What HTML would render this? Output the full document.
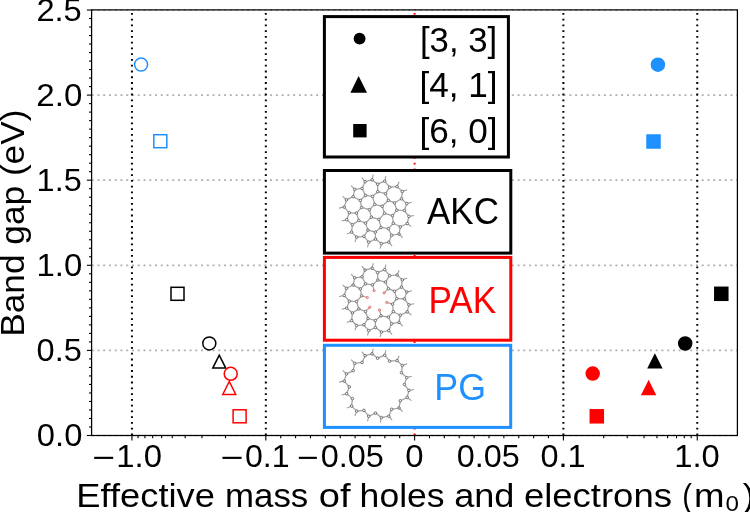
<!DOCTYPE html><html><head><meta charset="utf-8"><style>html,body{margin:0;padding:0;background:#fff;width:750px;height:512px;overflow:hidden}svg{display:block;will-change:transform}text{font-family:"Liberation Sans",sans-serif}</style></head><body>
<svg width="750" height="512" viewBox="0 0 750 512">
<line x1="91.6" y1="435.50" x2="737.4" y2="435.50" stroke="#b0b0b0" stroke-width="1.7" stroke-dasharray="2 3.755" stroke-dashoffset="-0.1"/>
<line x1="91.6" y1="350.40" x2="737.4" y2="350.40" stroke="#b0b0b0" stroke-width="1.7" stroke-dasharray="2 3.755" stroke-dashoffset="-0.1"/>
<line x1="91.6" y1="265.30" x2="737.4" y2="265.30" stroke="#b0b0b0" stroke-width="1.7" stroke-dasharray="2 3.755" stroke-dashoffset="-0.1"/>
<line x1="91.6" y1="180.20" x2="737.4" y2="180.20" stroke="#b0b0b0" stroke-width="1.7" stroke-dasharray="2 3.755" stroke-dashoffset="-0.1"/>
<line x1="91.6" y1="95.10" x2="737.4" y2="95.10" stroke="#b0b0b0" stroke-width="1.7" stroke-dasharray="2 3.755" stroke-dashoffset="-0.1"/>
<line x1="91.6" y1="10.00" x2="737.4" y2="10.00" stroke="#b0b0b0" stroke-width="1.7" stroke-dasharray="2 3.755" stroke-dashoffset="-0.1"/>
<line x1="131.94" y1="435.5" x2="131.94" y2="9.9" stroke="#000" stroke-width="2" stroke-dasharray="1.8 3.96" stroke-dashoffset="-0.24"/>
<line x1="265.83" y1="435.5" x2="265.83" y2="9.9" stroke="#000" stroke-width="2" stroke-dasharray="1.8 3.96" stroke-dashoffset="-0.24"/>
<line x1="563.37" y1="435.5" x2="563.37" y2="9.9" stroke="#000" stroke-width="2" stroke-dasharray="1.8 3.96" stroke-dashoffset="-0.24"/>
<line x1="697.26" y1="435.5" x2="697.26" y2="9.9" stroke="#000" stroke-width="2" stroke-dasharray="1.8 3.96" stroke-dashoffset="-0.24"/>
<line x1="414.60" y1="435.5" x2="414.60" y2="9.9" stroke="#ff0000" stroke-width="2" stroke-dasharray="1.8 3.96" stroke-dashoffset="-0.24"/>
<circle cx="141.07" cy="64.6" r="6.5" fill="none" stroke="#1e90ff" stroke-width="1.5"/>
<rect x="153.80" y="134.70" width="13" height="13" fill="none" stroke="#1e90ff" stroke-width="1.5"/>
<rect x="171.00" y="287.30" width="13" height="13" fill="none" stroke="#000000" stroke-width="1.5"/>
<circle cx="209.3" cy="343.4" r="6.5" fill="none" stroke="#000000" stroke-width="1.5"/>
<polygon points="219.25,355.10 212.75,368.10 225.75,368.10" fill="none" stroke="#000000" stroke-width="1.5" stroke-linejoin="miter"/>
<circle cx="230.7" cy="373.8" r="6.5" fill="none" stroke="#ff0000" stroke-width="1.5"/>
<polygon points="229.25,381.50 222.75,394.50 235.75,394.50" fill="none" stroke="#ff0000" stroke-width="1.5" stroke-linejoin="miter"/>
<rect x="233.10" y="409.80" width="13" height="13" fill="none" stroke="#ff0000" stroke-width="1.5"/>
<circle cx="657.9" cy="64.65" r="6.5" fill="#1e90ff" stroke="#1e90ff" stroke-width="1.5"/>
<rect x="647.00" y="135.00" width="13" height="13" fill="#1e90ff" stroke="#1e90ff" stroke-width="1.5"/>
<rect x="714.80" y="287.30" width="13" height="13" fill="#000000" stroke="#000000" stroke-width="1.5"/>
<circle cx="685.2" cy="343.5" r="6.5" fill="#000000" stroke="#000000" stroke-width="1.5"/>
<polygon points="654.90,354.85 648.40,367.85 661.40,367.85" fill="#000000" stroke="#000000" stroke-width="1.5" stroke-linejoin="miter"/>
<circle cx="592.7" cy="373.6" r="6.5" fill="#ff0000" stroke="#ff0000" stroke-width="1.5"/>
<polygon points="648.60,381.50 642.10,394.50 655.10,394.50" fill="#ff0000" stroke="#ff0000" stroke-width="1.5" stroke-linejoin="miter"/>
<rect x="590.30" y="409.80" width="13" height="13" fill="#ff0000" stroke="#ff0000" stroke-width="1.5"/>
<rect x="324.40" y="16.60" width="184.00" height="140.40" fill="#fff" stroke="#000000" stroke-width="3.0"/>
<rect x="324.40" y="170.50" width="186.40" height="82.60" fill="#fff" stroke="#000000" stroke-width="3.0"/>
<rect x="324.40" y="257.40" width="186.40" height="82.80" fill="#fff" stroke="#ff0000" stroke-width="3.0"/>
<rect x="324.40" y="345.30" width="186.30" height="82.10" fill="#fff" stroke="#1e90ff" stroke-width="3.0"/>
<g><line x1="346.50" y1="199.90" x2="342.61" y2="196.45" stroke="#9a9a9a" stroke-width="1.05"/><line x1="344.20" y1="207.10" x2="339.10" y2="208.13" stroke="#9a9a9a" stroke-width="1.05"/><line x1="346.70" y1="219.70" x2="341.64" y2="220.92" stroke="#9a9a9a" stroke-width="1.05"/><line x1="406.80" y1="203.60" x2="411.83" y2="202.29" stroke="#9a9a9a" stroke-width="1.05"/><line x1="372.10" y1="179.80" x2="373.30" y2="174.74" stroke="#9a9a9a" stroke-width="1.05"/><line x1="397.10" y1="186.60" x2="399.11" y2="181.80" stroke="#9a9a9a" stroke-width="1.05"/><line x1="351.60" y1="232.10" x2="346.81" y2="234.13" stroke="#9a9a9a" stroke-width="1.05"/><line x1="402.30" y1="191.50" x2="407.16" y2="189.64" stroke="#9a9a9a" stroke-width="1.05"/><line x1="408.90" y1="216.40" x2="414.01" y2="215.41" stroke="#9a9a9a" stroke-width="1.05"/><line x1="354.70" y1="189.40" x2="351.12" y2="185.63" stroke="#9a9a9a" stroke-width="1.05"/><line x1="381.40" y1="243.60" x2="380.12" y2="248.64" stroke="#9a9a9a" stroke-width="1.05"/><line x1="399.00" y1="234.00" x2="402.74" y2="237.62" stroke="#9a9a9a" stroke-width="1.05"/><line x1="365.10" y1="181.70" x2="361.77" y2="177.71" stroke="#9a9a9a" stroke-width="1.05"/><line x1="368.70" y1="242.20" x2="367.56" y2="247.27" stroke="#9a9a9a" stroke-width="1.05"/><line x1="384.70" y1="181.20" x2="385.93" y2="176.15" stroke="#9a9a9a" stroke-width="1.05"/><line x1="407.20" y1="223.50" x2="411.40" y2="226.57" stroke="#9a9a9a" stroke-width="1.05"/><line x1="356.70" y1="237.10" x2="354.90" y2="241.98" stroke="#9a9a9a" stroke-width="1.05"/><line x1="388.80" y1="242.20" x2="392.14" y2="246.19" stroke="#9a9a9a" stroke-width="1.05"/><line x1="372.10" y1="179.80" x2="365.10" y2="181.70" stroke="#a2a2a2" stroke-width="1.25"/><line x1="372.10" y1="179.80" x2="377.60" y2="184.20" stroke="#a2a2a2" stroke-width="1.25"/><line x1="365.10" y1="181.70" x2="362.10" y2="188.40" stroke="#a2a2a2" stroke-width="1.25"/><line x1="362.10" y1="188.40" x2="354.70" y2="189.40" stroke="#a2a2a2" stroke-width="1.25"/><line x1="362.10" y1="188.40" x2="365.50" y2="195.40" stroke="#a2a2a2" stroke-width="1.25"/><line x1="354.70" y1="189.40" x2="353.20" y2="196.60" stroke="#a2a2a2" stroke-width="1.25"/><line x1="353.20" y1="196.60" x2="360.30" y2="200.50" stroke="#a2a2a2" stroke-width="1.25"/><line x1="353.20" y1="196.60" x2="346.50" y2="199.90" stroke="#a2a2a2" stroke-width="1.25"/><line x1="360.30" y1="200.50" x2="365.50" y2="195.40" stroke="#a2a2a2" stroke-width="1.25"/><line x1="360.30" y1="200.50" x2="361.60" y2="207.40" stroke="#a2a2a2" stroke-width="1.25"/><line x1="365.50" y1="195.40" x2="372.50" y2="196.40" stroke="#a2a2a2" stroke-width="1.25"/><line x1="372.50" y1="196.40" x2="377.80" y2="191.70" stroke="#a2a2a2" stroke-width="1.25"/><line x1="372.50" y1="196.40" x2="374.70" y2="204.40" stroke="#a2a2a2" stroke-width="1.25"/><line x1="377.80" y1="191.70" x2="377.60" y2="184.20" stroke="#a2a2a2" stroke-width="1.25"/><line x1="377.80" y1="191.70" x2="385.50" y2="193.70" stroke="#a2a2a2" stroke-width="1.25"/><line x1="377.60" y1="184.20" x2="384.70" y2="181.20" stroke="#a2a2a2" stroke-width="1.25"/><line x1="346.50" y1="199.90" x2="344.20" y2="207.10" stroke="#a2a2a2" stroke-width="1.25"/><line x1="344.20" y1="207.10" x2="349.30" y2="212.80" stroke="#a2a2a2" stroke-width="1.25"/><line x1="349.30" y1="212.80" x2="356.50" y2="213.10" stroke="#a2a2a2" stroke-width="1.25"/><line x1="349.30" y1="212.80" x2="346.70" y2="219.70" stroke="#a2a2a2" stroke-width="1.25"/><line x1="356.50" y1="213.10" x2="361.60" y2="207.40" stroke="#a2a2a2" stroke-width="1.25"/><line x1="356.50" y1="213.10" x2="358.80" y2="220.50" stroke="#a2a2a2" stroke-width="1.25"/><line x1="361.60" y1="207.40" x2="369.40" y2="209.70" stroke="#a2a2a2" stroke-width="1.25"/><line x1="369.40" y1="209.70" x2="374.70" y2="204.40" stroke="#a2a2a2" stroke-width="1.25"/><line x1="369.40" y1="209.70" x2="371.40" y2="217.20" stroke="#a2a2a2" stroke-width="1.25"/><line x1="374.70" y1="204.40" x2="382.20" y2="206.30" stroke="#a2a2a2" stroke-width="1.25"/><line x1="384.70" y1="181.20" x2="389.60" y2="187.20" stroke="#a2a2a2" stroke-width="1.25"/><line x1="389.60" y1="187.20" x2="385.50" y2="193.70" stroke="#a2a2a2" stroke-width="1.25"/><line x1="389.60" y1="187.20" x2="397.10" y2="186.60" stroke="#a2a2a2" stroke-width="1.25"/><line x1="385.50" y1="193.70" x2="388.40" y2="200.30" stroke="#a2a2a2" stroke-width="1.25"/><line x1="397.10" y1="186.60" x2="402.30" y2="191.50" stroke="#a2a2a2" stroke-width="1.25"/><line x1="402.30" y1="191.50" x2="401.50" y2="198.70" stroke="#a2a2a2" stroke-width="1.25"/><line x1="401.50" y1="198.70" x2="394.50" y2="202.80" stroke="#a2a2a2" stroke-width="1.25"/><line x1="401.50" y1="198.70" x2="406.80" y2="203.60" stroke="#a2a2a2" stroke-width="1.25"/><line x1="394.50" y1="202.80" x2="388.40" y2="200.30" stroke="#a2a2a2" stroke-width="1.25"/><line x1="394.50" y1="202.80" x2="396.80" y2="210.20" stroke="#a2a2a2" stroke-width="1.25"/><line x1="388.40" y1="200.30" x2="382.20" y2="206.30" stroke="#a2a2a2" stroke-width="1.25"/><line x1="382.20" y1="206.30" x2="384.50" y2="213.30" stroke="#a2a2a2" stroke-width="1.25"/><line x1="406.80" y1="203.60" x2="404.40" y2="210.50" stroke="#a2a2a2" stroke-width="1.25"/><line x1="404.40" y1="210.50" x2="396.80" y2="210.20" stroke="#a2a2a2" stroke-width="1.25"/><line x1="404.40" y1="210.50" x2="408.90" y2="216.40" stroke="#a2a2a2" stroke-width="1.25"/><line x1="396.80" y1="210.20" x2="392.50" y2="215.70" stroke="#a2a2a2" stroke-width="1.25"/><line x1="384.50" y1="213.30" x2="392.50" y2="215.70" stroke="#a2a2a2" stroke-width="1.25"/><line x1="384.50" y1="213.30" x2="378.90" y2="219.40" stroke="#a2a2a2" stroke-width="1.25"/><line x1="346.70" y1="219.70" x2="352.40" y2="224.60" stroke="#a2a2a2" stroke-width="1.25"/><line x1="358.80" y1="220.50" x2="352.40" y2="224.60" stroke="#a2a2a2" stroke-width="1.25"/><line x1="358.80" y1="220.50" x2="365.50" y2="223.10" stroke="#a2a2a2" stroke-width="1.25"/><line x1="352.40" y1="224.60" x2="351.60" y2="232.10" stroke="#a2a2a2" stroke-width="1.25"/><line x1="365.50" y1="223.10" x2="371.40" y2="217.20" stroke="#a2a2a2" stroke-width="1.25"/><line x1="365.50" y1="223.10" x2="368.00" y2="230.10" stroke="#a2a2a2" stroke-width="1.25"/><line x1="371.40" y1="217.20" x2="378.90" y2="219.40" stroke="#a2a2a2" stroke-width="1.25"/><line x1="368.00" y1="230.10" x2="375.30" y2="232.10" stroke="#a2a2a2" stroke-width="1.25"/><line x1="368.00" y1="230.10" x2="363.90" y2="236.40" stroke="#a2a2a2" stroke-width="1.25"/><line x1="375.30" y1="232.10" x2="375.50" y2="239.10" stroke="#a2a2a2" stroke-width="1.25"/><line x1="375.30" y1="232.10" x2="381.00" y2="227.40" stroke="#a2a2a2" stroke-width="1.25"/><line x1="375.50" y1="239.10" x2="368.70" y2="242.20" stroke="#a2a2a2" stroke-width="1.25"/><line x1="375.50" y1="239.10" x2="381.40" y2="243.60" stroke="#a2a2a2" stroke-width="1.25"/><line x1="368.70" y1="242.20" x2="363.90" y2="236.40" stroke="#a2a2a2" stroke-width="1.25"/><line x1="363.90" y1="236.40" x2="356.70" y2="237.10" stroke="#a2a2a2" stroke-width="1.25"/><line x1="356.70" y1="237.10" x2="351.60" y2="232.10" stroke="#a2a2a2" stroke-width="1.25"/><line x1="392.50" y1="215.70" x2="393.30" y2="223.30" stroke="#a2a2a2" stroke-width="1.25"/><line x1="408.90" y1="216.40" x2="407.20" y2="223.50" stroke="#a2a2a2" stroke-width="1.25"/><line x1="407.20" y1="223.50" x2="400.30" y2="226.80" stroke="#a2a2a2" stroke-width="1.25"/><line x1="400.30" y1="226.80" x2="393.30" y2="223.30" stroke="#a2a2a2" stroke-width="1.25"/><line x1="400.30" y1="226.80" x2="399.00" y2="234.00" stroke="#a2a2a2" stroke-width="1.25"/><line x1="393.30" y1="223.30" x2="388.40" y2="228.70" stroke="#a2a2a2" stroke-width="1.25"/><line x1="388.40" y1="228.70" x2="381.00" y2="227.40" stroke="#a2a2a2" stroke-width="1.25"/><line x1="388.40" y1="228.70" x2="391.60" y2="235.30" stroke="#a2a2a2" stroke-width="1.25"/><line x1="381.00" y1="227.40" x2="378.90" y2="219.40" stroke="#a2a2a2" stroke-width="1.25"/><line x1="381.40" y1="243.60" x2="388.80" y2="242.20" stroke="#a2a2a2" stroke-width="1.25"/><line x1="388.80" y1="242.20" x2="391.60" y2="235.30" stroke="#a2a2a2" stroke-width="1.25"/><line x1="391.60" y1="235.30" x2="399.00" y2="234.00" stroke="#a2a2a2" stroke-width="1.25"/><circle cx="356.50" cy="213.10" r="1.3" fill="#f2f2f2" stroke="#585858" stroke-width="0.8"/><circle cx="388.40" cy="200.30" r="1.3" fill="#f2f2f2" stroke="#585858" stroke-width="0.8"/><circle cx="346.50" cy="199.90" r="1.3" fill="#f2f2f2" stroke="#585858" stroke-width="0.8"/><circle cx="365.50" cy="223.10" r="1.3" fill="#f2f2f2" stroke="#585858" stroke-width="0.8"/><circle cx="400.30" cy="226.80" r="1.3" fill="#f2f2f2" stroke="#585858" stroke-width="0.8"/><circle cx="344.20" cy="207.10" r="1.3" fill="#f2f2f2" stroke="#585858" stroke-width="0.8"/><circle cx="382.20" cy="206.30" r="1.3" fill="#f2f2f2" stroke="#585858" stroke-width="0.8"/><circle cx="346.70" cy="219.70" r="1.3" fill="#f2f2f2" stroke="#585858" stroke-width="0.8"/><circle cx="365.50" cy="195.40" r="1.3" fill="#f2f2f2" stroke="#585858" stroke-width="0.8"/><circle cx="377.60" cy="184.20" r="1.3" fill="#f2f2f2" stroke="#585858" stroke-width="0.8"/><circle cx="406.80" cy="203.60" r="1.3" fill="#f2f2f2" stroke="#585858" stroke-width="0.8"/><circle cx="352.40" cy="224.60" r="1.3" fill="#f2f2f2" stroke="#585858" stroke-width="0.8"/><circle cx="394.50" cy="202.80" r="1.3" fill="#f2f2f2" stroke="#585858" stroke-width="0.8"/><circle cx="371.40" cy="217.20" r="1.3" fill="#f2f2f2" stroke="#585858" stroke-width="0.8"/><circle cx="372.10" cy="179.80" r="1.3" fill="#f2f2f2" stroke="#585858" stroke-width="0.8"/><circle cx="397.10" cy="186.60" r="1.3" fill="#f2f2f2" stroke="#585858" stroke-width="0.8"/><circle cx="391.60" cy="235.30" r="1.3" fill="#f2f2f2" stroke="#585858" stroke-width="0.8"/><circle cx="361.60" cy="207.40" r="1.3" fill="#f2f2f2" stroke="#585858" stroke-width="0.8"/><circle cx="372.50" cy="196.40" r="1.3" fill="#f2f2f2" stroke="#585858" stroke-width="0.8"/><circle cx="393.30" cy="223.30" r="1.3" fill="#f2f2f2" stroke="#585858" stroke-width="0.8"/><circle cx="368.00" cy="230.10" r="1.3" fill="#f2f2f2" stroke="#585858" stroke-width="0.8"/><circle cx="381.00" cy="227.40" r="1.3" fill="#f2f2f2" stroke="#585858" stroke-width="0.8"/><circle cx="404.40" cy="210.50" r="1.3" fill="#f2f2f2" stroke="#585858" stroke-width="0.8"/><circle cx="351.60" cy="232.10" r="1.3" fill="#f2f2f2" stroke="#585858" stroke-width="0.8"/><circle cx="385.50" cy="193.70" r="1.3" fill="#f2f2f2" stroke="#585858" stroke-width="0.8"/><circle cx="402.30" cy="191.50" r="1.3" fill="#f2f2f2" stroke="#585858" stroke-width="0.8"/><circle cx="408.90" cy="216.40" r="1.3" fill="#f2f2f2" stroke="#585858" stroke-width="0.8"/><circle cx="354.70" cy="189.40" r="1.3" fill="#f2f2f2" stroke="#585858" stroke-width="0.8"/><circle cx="381.40" cy="243.60" r="1.3" fill="#f2f2f2" stroke="#585858" stroke-width="0.8"/><circle cx="375.50" cy="239.10" r="1.3" fill="#f2f2f2" stroke="#585858" stroke-width="0.8"/><circle cx="384.50" cy="213.30" r="1.3" fill="#f2f2f2" stroke="#585858" stroke-width="0.8"/><circle cx="375.30" cy="232.10" r="1.3" fill="#f2f2f2" stroke="#585858" stroke-width="0.8"/><circle cx="363.90" cy="236.40" r="1.3" fill="#f2f2f2" stroke="#585858" stroke-width="0.8"/><circle cx="399.00" cy="234.00" r="1.3" fill="#f2f2f2" stroke="#585858" stroke-width="0.8"/><circle cx="369.40" cy="209.70" r="1.3" fill="#f2f2f2" stroke="#585858" stroke-width="0.8"/><circle cx="401.50" cy="198.70" r="1.3" fill="#f2f2f2" stroke="#585858" stroke-width="0.8"/><circle cx="365.10" cy="181.70" r="1.3" fill="#f2f2f2" stroke="#585858" stroke-width="0.8"/><circle cx="349.30" cy="212.80" r="1.3" fill="#f2f2f2" stroke="#585858" stroke-width="0.8"/><circle cx="362.10" cy="188.40" r="1.3" fill="#f2f2f2" stroke="#585858" stroke-width="0.8"/><circle cx="389.60" cy="187.20" r="1.3" fill="#f2f2f2" stroke="#585858" stroke-width="0.8"/><circle cx="396.80" cy="210.20" r="1.3" fill="#f2f2f2" stroke="#585858" stroke-width="0.8"/><circle cx="368.70" cy="242.20" r="1.3" fill="#f2f2f2" stroke="#585858" stroke-width="0.8"/><circle cx="384.70" cy="181.20" r="1.3" fill="#f2f2f2" stroke="#585858" stroke-width="0.8"/><circle cx="378.90" cy="219.40" r="1.3" fill="#f2f2f2" stroke="#585858" stroke-width="0.8"/><circle cx="353.20" cy="196.60" r="1.3" fill="#f2f2f2" stroke="#585858" stroke-width="0.8"/><circle cx="407.20" cy="223.50" r="1.3" fill="#f2f2f2" stroke="#585858" stroke-width="0.8"/><circle cx="358.80" cy="220.50" r="1.3" fill="#f2f2f2" stroke="#585858" stroke-width="0.8"/><circle cx="374.70" cy="204.40" r="1.3" fill="#f2f2f2" stroke="#585858" stroke-width="0.8"/><circle cx="356.70" cy="237.10" r="1.3" fill="#f2f2f2" stroke="#585858" stroke-width="0.8"/><circle cx="388.80" cy="242.20" r="1.3" fill="#f2f2f2" stroke="#585858" stroke-width="0.8"/><circle cx="392.50" cy="215.70" r="1.3" fill="#f2f2f2" stroke="#585858" stroke-width="0.8"/><circle cx="360.30" cy="200.50" r="1.3" fill="#f2f2f2" stroke="#585858" stroke-width="0.8"/><circle cx="377.80" cy="191.70" r="1.3" fill="#f2f2f2" stroke="#585858" stroke-width="0.8"/><circle cx="388.40" cy="228.70" r="1.3" fill="#f2f2f2" stroke="#585858" stroke-width="0.8"/><line x1="346.50" y1="288.30" x2="342.61" y2="284.85" stroke="#9a9a9a" stroke-width="1.05"/><line x1="344.20" y1="295.50" x2="339.10" y2="296.53" stroke="#9a9a9a" stroke-width="1.05"/><line x1="346.70" y1="308.10" x2="341.64" y2="309.32" stroke="#9a9a9a" stroke-width="1.05"/><line x1="406.80" y1="292.00" x2="411.83" y2="290.69" stroke="#9a9a9a" stroke-width="1.05"/><line x1="372.10" y1="268.20" x2="373.30" y2="263.14" stroke="#9a9a9a" stroke-width="1.05"/><line x1="397.10" y1="275.00" x2="399.11" y2="270.20" stroke="#9a9a9a" stroke-width="1.05"/><line x1="351.60" y1="320.50" x2="346.81" y2="322.53" stroke="#9a9a9a" stroke-width="1.05"/><line x1="402.30" y1="279.90" x2="407.16" y2="278.04" stroke="#9a9a9a" stroke-width="1.05"/><line x1="408.90" y1="304.80" x2="414.01" y2="303.81" stroke="#9a9a9a" stroke-width="1.05"/><line x1="354.70" y1="277.80" x2="351.12" y2="274.03" stroke="#9a9a9a" stroke-width="1.05"/><line x1="381.40" y1="332.00" x2="380.12" y2="337.04" stroke="#9a9a9a" stroke-width="1.05"/><line x1="399.00" y1="322.40" x2="402.74" y2="326.02" stroke="#9a9a9a" stroke-width="1.05"/><line x1="365.10" y1="270.10" x2="361.77" y2="266.11" stroke="#9a9a9a" stroke-width="1.05"/><line x1="368.70" y1="330.60" x2="367.56" y2="335.67" stroke="#9a9a9a" stroke-width="1.05"/><line x1="384.70" y1="269.60" x2="385.93" y2="264.55" stroke="#9a9a9a" stroke-width="1.05"/><line x1="407.20" y1="311.90" x2="411.40" y2="314.97" stroke="#9a9a9a" stroke-width="1.05"/><line x1="356.70" y1="325.50" x2="354.90" y2="330.38" stroke="#9a9a9a" stroke-width="1.05"/><line x1="388.80" y1="330.60" x2="392.14" y2="334.59" stroke="#9a9a9a" stroke-width="1.05"/><line x1="361.60" y1="295.80" x2="364.77" y2="296.73" stroke="#9a9a9a" stroke-width="1.05"/><line x1="364.57" y1="296.68" x2="366.59" y2="297.27" stroke="#dc8484" stroke-width="1.1"/><circle cx="367.36" cy="297.50" r="1.1" fill="#f4d0d0" stroke="#d06060" stroke-width="0.8"/><line x1="372.50" y1="284.80" x2="373.38" y2="287.98" stroke="#9a9a9a" stroke-width="1.05"/><line x1="373.32" y1="287.79" x2="373.88" y2="289.81" stroke="#dc8484" stroke-width="1.1"/><circle cx="374.09" cy="290.59" r="1.1" fill="#f4d0d0" stroke="#d06060" stroke-width="0.8"/><line x1="388.40" y1="288.70" x2="386.03" y2="290.99" stroke="#9a9a9a" stroke-width="1.05"/><line x1="386.17" y1="290.86" x2="384.66" y2="292.32" stroke="#dc8484" stroke-width="1.1"/><circle cx="384.09" cy="292.87" r="1.1" fill="#f4d0d0" stroke="#d06060" stroke-width="0.8"/><line x1="392.50" y1="304.10" x2="389.34" y2="303.15" stroke="#9a9a9a" stroke-width="1.05"/><line x1="389.53" y1="303.21" x2="387.52" y2="302.61" stroke="#dc8484" stroke-width="1.1"/><circle cx="386.75" cy="302.38" r="1.1" fill="#f4d0d0" stroke="#d06060" stroke-width="0.8"/><line x1="365.50" y1="311.50" x2="367.83" y2="309.17" stroke="#9a9a9a" stroke-width="1.05"/><line x1="367.69" y1="309.31" x2="369.18" y2="307.82" stroke="#dc8484" stroke-width="1.1"/><circle cx="369.74" cy="307.26" r="1.1" fill="#f4d0d0" stroke="#d06060" stroke-width="0.8"/><line x1="381.00" y1="315.80" x2="380.16" y2="312.61" stroke="#9a9a9a" stroke-width="1.05"/><line x1="380.21" y1="312.80" x2="379.68" y2="310.77" stroke="#dc8484" stroke-width="1.1"/><circle cx="379.48" cy="310.00" r="1.1" fill="#f4d0d0" stroke="#d06060" stroke-width="0.8"/><line x1="372.10" y1="268.20" x2="365.10" y2="270.10" stroke="#a2a2a2" stroke-width="1.25"/><line x1="372.10" y1="268.20" x2="377.60" y2="272.60" stroke="#a2a2a2" stroke-width="1.25"/><line x1="365.10" y1="270.10" x2="362.10" y2="276.80" stroke="#a2a2a2" stroke-width="1.25"/><line x1="362.10" y1="276.80" x2="354.70" y2="277.80" stroke="#a2a2a2" stroke-width="1.25"/><line x1="362.10" y1="276.80" x2="365.50" y2="283.80" stroke="#a2a2a2" stroke-width="1.25"/><line x1="354.70" y1="277.80" x2="353.20" y2="285.00" stroke="#a2a2a2" stroke-width="1.25"/><line x1="353.20" y1="285.00" x2="360.30" y2="288.90" stroke="#a2a2a2" stroke-width="1.25"/><line x1="353.20" y1="285.00" x2="346.50" y2="288.30" stroke="#a2a2a2" stroke-width="1.25"/><line x1="360.30" y1="288.90" x2="365.50" y2="283.80" stroke="#a2a2a2" stroke-width="1.25"/><line x1="360.30" y1="288.90" x2="361.60" y2="295.80" stroke="#a2a2a2" stroke-width="1.25"/><line x1="365.50" y1="283.80" x2="372.50" y2="284.80" stroke="#a2a2a2" stroke-width="1.25"/><line x1="372.50" y1="284.80" x2="377.80" y2="280.10" stroke="#a2a2a2" stroke-width="1.25"/><line x1="377.80" y1="280.10" x2="377.60" y2="272.60" stroke="#a2a2a2" stroke-width="1.25"/><line x1="377.80" y1="280.10" x2="385.50" y2="282.10" stroke="#a2a2a2" stroke-width="1.25"/><line x1="377.60" y1="272.60" x2="384.70" y2="269.60" stroke="#a2a2a2" stroke-width="1.25"/><line x1="346.50" y1="288.30" x2="344.20" y2="295.50" stroke="#a2a2a2" stroke-width="1.25"/><line x1="344.20" y1="295.50" x2="349.30" y2="301.20" stroke="#a2a2a2" stroke-width="1.25"/><line x1="349.30" y1="301.20" x2="356.50" y2="301.50" stroke="#a2a2a2" stroke-width="1.25"/><line x1="349.30" y1="301.20" x2="346.70" y2="308.10" stroke="#a2a2a2" stroke-width="1.25"/><line x1="356.50" y1="301.50" x2="361.60" y2="295.80" stroke="#a2a2a2" stroke-width="1.25"/><line x1="356.50" y1="301.50" x2="358.80" y2="308.90" stroke="#a2a2a2" stroke-width="1.25"/><line x1="384.70" y1="269.60" x2="389.60" y2="275.60" stroke="#a2a2a2" stroke-width="1.25"/><line x1="389.60" y1="275.60" x2="385.50" y2="282.10" stroke="#a2a2a2" stroke-width="1.25"/><line x1="389.60" y1="275.60" x2="397.10" y2="275.00" stroke="#a2a2a2" stroke-width="1.25"/><line x1="385.50" y1="282.10" x2="388.40" y2="288.70" stroke="#a2a2a2" stroke-width="1.25"/><line x1="397.10" y1="275.00" x2="402.30" y2="279.90" stroke="#a2a2a2" stroke-width="1.25"/><line x1="402.30" y1="279.90" x2="401.50" y2="287.10" stroke="#a2a2a2" stroke-width="1.25"/><line x1="401.50" y1="287.10" x2="394.50" y2="291.20" stroke="#a2a2a2" stroke-width="1.25"/><line x1="401.50" y1="287.10" x2="406.80" y2="292.00" stroke="#a2a2a2" stroke-width="1.25"/><line x1="394.50" y1="291.20" x2="388.40" y2="288.70" stroke="#a2a2a2" stroke-width="1.25"/><line x1="394.50" y1="291.20" x2="396.80" y2="298.60" stroke="#a2a2a2" stroke-width="1.25"/><line x1="406.80" y1="292.00" x2="404.40" y2="298.90" stroke="#a2a2a2" stroke-width="1.25"/><line x1="404.40" y1="298.90" x2="396.80" y2="298.60" stroke="#a2a2a2" stroke-width="1.25"/><line x1="404.40" y1="298.90" x2="408.90" y2="304.80" stroke="#a2a2a2" stroke-width="1.25"/><line x1="396.80" y1="298.60" x2="392.50" y2="304.10" stroke="#a2a2a2" stroke-width="1.25"/><line x1="346.70" y1="308.10" x2="352.40" y2="313.00" stroke="#a2a2a2" stroke-width="1.25"/><line x1="358.80" y1="308.90" x2="352.40" y2="313.00" stroke="#a2a2a2" stroke-width="1.25"/><line x1="358.80" y1="308.90" x2="365.50" y2="311.50" stroke="#a2a2a2" stroke-width="1.25"/><line x1="352.40" y1="313.00" x2="351.60" y2="320.50" stroke="#a2a2a2" stroke-width="1.25"/><line x1="365.50" y1="311.50" x2="368.00" y2="318.50" stroke="#a2a2a2" stroke-width="1.25"/><line x1="368.00" y1="318.50" x2="375.30" y2="320.50" stroke="#a2a2a2" stroke-width="1.25"/><line x1="368.00" y1="318.50" x2="363.90" y2="324.80" stroke="#a2a2a2" stroke-width="1.25"/><line x1="375.30" y1="320.50" x2="375.50" y2="327.50" stroke="#a2a2a2" stroke-width="1.25"/><line x1="375.30" y1="320.50" x2="381.00" y2="315.80" stroke="#a2a2a2" stroke-width="1.25"/><line x1="375.50" y1="327.50" x2="368.70" y2="330.60" stroke="#a2a2a2" stroke-width="1.25"/><line x1="375.50" y1="327.50" x2="381.40" y2="332.00" stroke="#a2a2a2" stroke-width="1.25"/><line x1="368.70" y1="330.60" x2="363.90" y2="324.80" stroke="#a2a2a2" stroke-width="1.25"/><line x1="363.90" y1="324.80" x2="356.70" y2="325.50" stroke="#a2a2a2" stroke-width="1.25"/><line x1="356.70" y1="325.50" x2="351.60" y2="320.50" stroke="#a2a2a2" stroke-width="1.25"/><line x1="392.50" y1="304.10" x2="393.30" y2="311.70" stroke="#a2a2a2" stroke-width="1.25"/><line x1="408.90" y1="304.80" x2="407.20" y2="311.90" stroke="#a2a2a2" stroke-width="1.25"/><line x1="407.20" y1="311.90" x2="400.30" y2="315.20" stroke="#a2a2a2" stroke-width="1.25"/><line x1="400.30" y1="315.20" x2="393.30" y2="311.70" stroke="#a2a2a2" stroke-width="1.25"/><line x1="400.30" y1="315.20" x2="399.00" y2="322.40" stroke="#a2a2a2" stroke-width="1.25"/><line x1="393.30" y1="311.70" x2="388.40" y2="317.10" stroke="#a2a2a2" stroke-width="1.25"/><line x1="388.40" y1="317.10" x2="381.00" y2="315.80" stroke="#a2a2a2" stroke-width="1.25"/><line x1="388.40" y1="317.10" x2="391.60" y2="323.70" stroke="#a2a2a2" stroke-width="1.25"/><line x1="381.40" y1="332.00" x2="388.80" y2="330.60" stroke="#a2a2a2" stroke-width="1.25"/><line x1="388.80" y1="330.60" x2="391.60" y2="323.70" stroke="#a2a2a2" stroke-width="1.25"/><line x1="391.60" y1="323.70" x2="399.00" y2="322.40" stroke="#a2a2a2" stroke-width="1.25"/><circle cx="356.50" cy="301.50" r="1.3" fill="#f2f2f2" stroke="#585858" stroke-width="0.8"/><circle cx="388.40" cy="288.70" r="1.3" fill="#f2f2f2" stroke="#585858" stroke-width="0.8"/><circle cx="346.50" cy="288.30" r="1.3" fill="#f2f2f2" stroke="#585858" stroke-width="0.8"/><circle cx="365.50" cy="311.50" r="1.3" fill="#f2f2f2" stroke="#585858" stroke-width="0.8"/><circle cx="400.30" cy="315.20" r="1.3" fill="#f2f2f2" stroke="#585858" stroke-width="0.8"/><circle cx="344.20" cy="295.50" r="1.3" fill="#f2f2f2" stroke="#585858" stroke-width="0.8"/><circle cx="346.70" cy="308.10" r="1.3" fill="#f2f2f2" stroke="#585858" stroke-width="0.8"/><circle cx="365.50" cy="283.80" r="1.3" fill="#f2f2f2" stroke="#585858" stroke-width="0.8"/><circle cx="377.60" cy="272.60" r="1.3" fill="#f2f2f2" stroke="#585858" stroke-width="0.8"/><circle cx="406.80" cy="292.00" r="1.3" fill="#f2f2f2" stroke="#585858" stroke-width="0.8"/><circle cx="352.40" cy="313.00" r="1.3" fill="#f2f2f2" stroke="#585858" stroke-width="0.8"/><circle cx="394.50" cy="291.20" r="1.3" fill="#f2f2f2" stroke="#585858" stroke-width="0.8"/><circle cx="372.10" cy="268.20" r="1.3" fill="#f2f2f2" stroke="#585858" stroke-width="0.8"/><circle cx="397.10" cy="275.00" r="1.3" fill="#f2f2f2" stroke="#585858" stroke-width="0.8"/><circle cx="391.60" cy="323.70" r="1.3" fill="#f2f2f2" stroke="#585858" stroke-width="0.8"/><circle cx="361.60" cy="295.80" r="1.3" fill="#f2f2f2" stroke="#585858" stroke-width="0.8"/><circle cx="372.50" cy="284.80" r="1.3" fill="#f2f2f2" stroke="#585858" stroke-width="0.8"/><circle cx="393.30" cy="311.70" r="1.3" fill="#f2f2f2" stroke="#585858" stroke-width="0.8"/><circle cx="368.00" cy="318.50" r="1.3" fill="#f2f2f2" stroke="#585858" stroke-width="0.8"/><circle cx="381.00" cy="315.80" r="1.3" fill="#f2f2f2" stroke="#585858" stroke-width="0.8"/><circle cx="404.40" cy="298.90" r="1.3" fill="#f2f2f2" stroke="#585858" stroke-width="0.8"/><circle cx="351.60" cy="320.50" r="1.3" fill="#f2f2f2" stroke="#585858" stroke-width="0.8"/><circle cx="385.50" cy="282.10" r="1.3" fill="#f2f2f2" stroke="#585858" stroke-width="0.8"/><circle cx="402.30" cy="279.90" r="1.3" fill="#f2f2f2" stroke="#585858" stroke-width="0.8"/><circle cx="408.90" cy="304.80" r="1.3" fill="#f2f2f2" stroke="#585858" stroke-width="0.8"/><circle cx="354.70" cy="277.80" r="1.3" fill="#f2f2f2" stroke="#585858" stroke-width="0.8"/><circle cx="381.40" cy="332.00" r="1.3" fill="#f2f2f2" stroke="#585858" stroke-width="0.8"/><circle cx="375.50" cy="327.50" r="1.3" fill="#f2f2f2" stroke="#585858" stroke-width="0.8"/><circle cx="375.30" cy="320.50" r="1.3" fill="#f2f2f2" stroke="#585858" stroke-width="0.8"/><circle cx="363.90" cy="324.80" r="1.3" fill="#f2f2f2" stroke="#585858" stroke-width="0.8"/><circle cx="399.00" cy="322.40" r="1.3" fill="#f2f2f2" stroke="#585858" stroke-width="0.8"/><circle cx="401.50" cy="287.10" r="1.3" fill="#f2f2f2" stroke="#585858" stroke-width="0.8"/><circle cx="365.10" cy="270.10" r="1.3" fill="#f2f2f2" stroke="#585858" stroke-width="0.8"/><circle cx="349.30" cy="301.20" r="1.3" fill="#f2f2f2" stroke="#585858" stroke-width="0.8"/><circle cx="362.10" cy="276.80" r="1.3" fill="#f2f2f2" stroke="#585858" stroke-width="0.8"/><circle cx="389.60" cy="275.60" r="1.3" fill="#f2f2f2" stroke="#585858" stroke-width="0.8"/><circle cx="396.80" cy="298.60" r="1.3" fill="#f2f2f2" stroke="#585858" stroke-width="0.8"/><circle cx="368.70" cy="330.60" r="1.3" fill="#f2f2f2" stroke="#585858" stroke-width="0.8"/><circle cx="384.70" cy="269.60" r="1.3" fill="#f2f2f2" stroke="#585858" stroke-width="0.8"/><circle cx="353.20" cy="285.00" r="1.3" fill="#f2f2f2" stroke="#585858" stroke-width="0.8"/><circle cx="407.20" cy="311.90" r="1.3" fill="#f2f2f2" stroke="#585858" stroke-width="0.8"/><circle cx="358.80" cy="308.90" r="1.3" fill="#f2f2f2" stroke="#585858" stroke-width="0.8"/><circle cx="356.70" cy="325.50" r="1.3" fill="#f2f2f2" stroke="#585858" stroke-width="0.8"/><circle cx="388.80" cy="330.60" r="1.3" fill="#f2f2f2" stroke="#585858" stroke-width="0.8"/><circle cx="392.50" cy="304.10" r="1.3" fill="#f2f2f2" stroke="#585858" stroke-width="0.8"/><circle cx="360.30" cy="288.90" r="1.3" fill="#f2f2f2" stroke="#585858" stroke-width="0.8"/><circle cx="377.80" cy="280.10" r="1.3" fill="#f2f2f2" stroke="#585858" stroke-width="0.8"/><circle cx="388.40" cy="317.10" r="1.3" fill="#f2f2f2" stroke="#585858" stroke-width="0.8"/><line x1="346.50" y1="373.90" x2="342.61" y2="370.45" stroke="#9a9a9a" stroke-width="1.05"/><line x1="344.20" y1="381.10" x2="339.10" y2="382.13" stroke="#9a9a9a" stroke-width="1.05"/><line x1="346.70" y1="393.70" x2="341.64" y2="394.92" stroke="#9a9a9a" stroke-width="1.05"/><line x1="406.80" y1="377.60" x2="411.83" y2="376.29" stroke="#9a9a9a" stroke-width="1.05"/><line x1="372.10" y1="353.80" x2="373.30" y2="348.74" stroke="#9a9a9a" stroke-width="1.05"/><line x1="397.10" y1="360.60" x2="399.11" y2="355.80" stroke="#9a9a9a" stroke-width="1.05"/><line x1="351.60" y1="406.10" x2="346.81" y2="408.13" stroke="#9a9a9a" stroke-width="1.05"/><line x1="402.30" y1="365.50" x2="407.16" y2="363.64" stroke="#9a9a9a" stroke-width="1.05"/><line x1="408.90" y1="390.40" x2="414.01" y2="389.41" stroke="#9a9a9a" stroke-width="1.05"/><line x1="354.70" y1="363.40" x2="351.12" y2="359.63" stroke="#9a9a9a" stroke-width="1.05"/><line x1="381.40" y1="417.60" x2="380.12" y2="422.64" stroke="#9a9a9a" stroke-width="1.05"/><line x1="399.00" y1="408.00" x2="402.74" y2="411.62" stroke="#9a9a9a" stroke-width="1.05"/><line x1="365.10" y1="355.70" x2="361.77" y2="351.71" stroke="#9a9a9a" stroke-width="1.05"/><line x1="368.70" y1="416.20" x2="367.56" y2="421.27" stroke="#9a9a9a" stroke-width="1.05"/><line x1="384.70" y1="355.20" x2="385.93" y2="350.15" stroke="#9a9a9a" stroke-width="1.05"/><line x1="407.20" y1="397.50" x2="411.40" y2="400.57" stroke="#9a9a9a" stroke-width="1.05"/><line x1="356.70" y1="411.10" x2="354.90" y2="415.98" stroke="#9a9a9a" stroke-width="1.05"/><line x1="388.80" y1="416.20" x2="392.14" y2="420.19" stroke="#9a9a9a" stroke-width="1.05"/><line x1="372.10" y1="353.80" x2="365.10" y2="355.70" stroke="#a2a2a2" stroke-width="1.25"/><line x1="365.10" y1="355.70" x2="362.10" y2="362.40" stroke="#a2a2a2" stroke-width="1.25"/><line x1="362.10" y1="362.40" x2="354.70" y2="363.40" stroke="#a2a2a2" stroke-width="1.25"/><line x1="354.70" y1="363.40" x2="353.20" y2="370.60" stroke="#a2a2a2" stroke-width="1.25"/><line x1="353.20" y1="370.60" x2="346.50" y2="373.90" stroke="#a2a2a2" stroke-width="1.25"/><line x1="346.50" y1="373.90" x2="344.20" y2="381.10" stroke="#a2a2a2" stroke-width="1.25"/><line x1="344.20" y1="381.10" x2="349.30" y2="386.80" stroke="#a2a2a2" stroke-width="1.25"/><line x1="349.30" y1="386.80" x2="346.70" y2="393.70" stroke="#a2a2a2" stroke-width="1.25"/><line x1="346.70" y1="393.70" x2="352.40" y2="398.60" stroke="#a2a2a2" stroke-width="1.25"/><line x1="352.40" y1="398.60" x2="351.60" y2="406.10" stroke="#a2a2a2" stroke-width="1.25"/><line x1="351.60" y1="406.10" x2="356.70" y2="411.10" stroke="#a2a2a2" stroke-width="1.25"/><line x1="356.70" y1="411.10" x2="363.90" y2="410.40" stroke="#a2a2a2" stroke-width="1.25"/><line x1="363.90" y1="410.40" x2="368.70" y2="416.20" stroke="#a2a2a2" stroke-width="1.25"/><line x1="368.70" y1="416.20" x2="375.50" y2="413.10" stroke="#a2a2a2" stroke-width="1.25"/><line x1="375.50" y1="413.10" x2="381.40" y2="417.60" stroke="#a2a2a2" stroke-width="1.25"/><line x1="381.40" y1="417.60" x2="388.80" y2="416.20" stroke="#a2a2a2" stroke-width="1.25"/><line x1="388.80" y1="416.20" x2="391.60" y2="409.30" stroke="#a2a2a2" stroke-width="1.25"/><line x1="391.60" y1="409.30" x2="399.00" y2="408.00" stroke="#a2a2a2" stroke-width="1.25"/><line x1="399.00" y1="408.00" x2="400.30" y2="400.80" stroke="#a2a2a2" stroke-width="1.25"/><line x1="400.30" y1="400.80" x2="407.20" y2="397.50" stroke="#a2a2a2" stroke-width="1.25"/><line x1="407.20" y1="397.50" x2="408.90" y2="390.40" stroke="#a2a2a2" stroke-width="1.25"/><line x1="408.90" y1="390.40" x2="404.40" y2="384.50" stroke="#a2a2a2" stroke-width="1.25"/><line x1="404.40" y1="384.50" x2="406.80" y2="377.60" stroke="#a2a2a2" stroke-width="1.25"/><line x1="406.80" y1="377.60" x2="401.50" y2="372.70" stroke="#a2a2a2" stroke-width="1.25"/><line x1="401.50" y1="372.70" x2="402.30" y2="365.50" stroke="#a2a2a2" stroke-width="1.25"/><line x1="402.30" y1="365.50" x2="397.10" y2="360.60" stroke="#a2a2a2" stroke-width="1.25"/><line x1="397.10" y1="360.60" x2="389.60" y2="361.20" stroke="#a2a2a2" stroke-width="1.25"/><line x1="389.60" y1="361.20" x2="384.70" y2="355.20" stroke="#a2a2a2" stroke-width="1.25"/><line x1="384.70" y1="355.20" x2="377.60" y2="358.20" stroke="#a2a2a2" stroke-width="1.25"/><line x1="377.60" y1="358.20" x2="372.10" y2="353.80" stroke="#a2a2a2" stroke-width="1.25"/><circle cx="346.50" cy="373.90" r="1.3" fill="#f2f2f2" stroke="#585858" stroke-width="0.8"/><circle cx="400.30" cy="400.80" r="1.3" fill="#f2f2f2" stroke="#585858" stroke-width="0.8"/><circle cx="344.20" cy="381.10" r="1.3" fill="#f2f2f2" stroke="#585858" stroke-width="0.8"/><circle cx="346.70" cy="393.70" r="1.3" fill="#f2f2f2" stroke="#585858" stroke-width="0.8"/><circle cx="377.60" cy="358.20" r="1.3" fill="#f2f2f2" stroke="#585858" stroke-width="0.8"/><circle cx="406.80" cy="377.60" r="1.3" fill="#f2f2f2" stroke="#585858" stroke-width="0.8"/><circle cx="352.40" cy="398.60" r="1.3" fill="#f2f2f2" stroke="#585858" stroke-width="0.8"/><circle cx="372.10" cy="353.80" r="1.3" fill="#f2f2f2" stroke="#585858" stroke-width="0.8"/><circle cx="397.10" cy="360.60" r="1.3" fill="#f2f2f2" stroke="#585858" stroke-width="0.8"/><circle cx="391.60" cy="409.30" r="1.3" fill="#f2f2f2" stroke="#585858" stroke-width="0.8"/><circle cx="404.40" cy="384.50" r="1.3" fill="#f2f2f2" stroke="#585858" stroke-width="0.8"/><circle cx="351.60" cy="406.10" r="1.3" fill="#f2f2f2" stroke="#585858" stroke-width="0.8"/><circle cx="402.30" cy="365.50" r="1.3" fill="#f2f2f2" stroke="#585858" stroke-width="0.8"/><circle cx="408.90" cy="390.40" r="1.3" fill="#f2f2f2" stroke="#585858" stroke-width="0.8"/><circle cx="354.70" cy="363.40" r="1.3" fill="#f2f2f2" stroke="#585858" stroke-width="0.8"/><circle cx="381.40" cy="417.60" r="1.3" fill="#f2f2f2" stroke="#585858" stroke-width="0.8"/><circle cx="375.50" cy="413.10" r="1.3" fill="#f2f2f2" stroke="#585858" stroke-width="0.8"/><circle cx="363.90" cy="410.40" r="1.3" fill="#f2f2f2" stroke="#585858" stroke-width="0.8"/><circle cx="399.00" cy="408.00" r="1.3" fill="#f2f2f2" stroke="#585858" stroke-width="0.8"/><circle cx="401.50" cy="372.70" r="1.3" fill="#f2f2f2" stroke="#585858" stroke-width="0.8"/><circle cx="365.10" cy="355.70" r="1.3" fill="#f2f2f2" stroke="#585858" stroke-width="0.8"/><circle cx="349.30" cy="386.80" r="1.3" fill="#f2f2f2" stroke="#585858" stroke-width="0.8"/><circle cx="362.10" cy="362.40" r="1.3" fill="#f2f2f2" stroke="#585858" stroke-width="0.8"/><circle cx="389.60" cy="361.20" r="1.3" fill="#f2f2f2" stroke="#585858" stroke-width="0.8"/><circle cx="368.70" cy="416.20" r="1.3" fill="#f2f2f2" stroke="#585858" stroke-width="0.8"/><circle cx="384.70" cy="355.20" r="1.3" fill="#f2f2f2" stroke="#585858" stroke-width="0.8"/><circle cx="353.20" cy="370.60" r="1.3" fill="#f2f2f2" stroke="#585858" stroke-width="0.8"/><circle cx="407.20" cy="397.50" r="1.3" fill="#f2f2f2" stroke="#585858" stroke-width="0.8"/><circle cx="356.70" cy="411.10" r="1.3" fill="#f2f2f2" stroke="#585858" stroke-width="0.8"/><circle cx="388.80" cy="416.20" r="1.3" fill="#f2f2f2" stroke="#585858" stroke-width="0.8"/></g>
<circle cx="359.6" cy="38.6" r="5.95" fill="#000"/>
<polygon points="358.6,75.9 350.4,92.7 367,92.7" fill="#000"/>
<rect x="353.2" y="124" width="13.4" height="13.4" fill="#000"/>
<rect x="91.6" y="9.9" width="645.80" height="425.60" fill="none" stroke="#000" stroke-width="1.25"/>
<line x1="86.90" y1="435.50" x2="91.6" y2="435.50" stroke="#000" stroke-width="1.1"/>
<line x1="89.00" y1="426.99" x2="91.6" y2="426.99" stroke="#000" stroke-width="1.1"/>
<line x1="89.00" y1="418.48" x2="91.6" y2="418.48" stroke="#000" stroke-width="1.1"/>
<line x1="89.00" y1="409.97" x2="91.6" y2="409.97" stroke="#000" stroke-width="1.1"/>
<line x1="89.00" y1="401.46" x2="91.6" y2="401.46" stroke="#000" stroke-width="1.1"/>
<line x1="89.00" y1="392.95" x2="91.6" y2="392.95" stroke="#000" stroke-width="1.1"/>
<line x1="89.00" y1="384.44" x2="91.6" y2="384.44" stroke="#000" stroke-width="1.1"/>
<line x1="89.00" y1="375.93" x2="91.6" y2="375.93" stroke="#000" stroke-width="1.1"/>
<line x1="89.00" y1="367.42" x2="91.6" y2="367.42" stroke="#000" stroke-width="1.1"/>
<line x1="89.00" y1="358.91" x2="91.6" y2="358.91" stroke="#000" stroke-width="1.1"/>
<line x1="86.90" y1="350.40" x2="91.6" y2="350.40" stroke="#000" stroke-width="1.1"/>
<line x1="89.00" y1="341.89" x2="91.6" y2="341.89" stroke="#000" stroke-width="1.1"/>
<line x1="89.00" y1="333.38" x2="91.6" y2="333.38" stroke="#000" stroke-width="1.1"/>
<line x1="89.00" y1="324.87" x2="91.6" y2="324.87" stroke="#000" stroke-width="1.1"/>
<line x1="89.00" y1="316.36" x2="91.6" y2="316.36" stroke="#000" stroke-width="1.1"/>
<line x1="89.00" y1="307.85" x2="91.6" y2="307.85" stroke="#000" stroke-width="1.1"/>
<line x1="89.00" y1="299.34" x2="91.6" y2="299.34" stroke="#000" stroke-width="1.1"/>
<line x1="89.00" y1="290.83" x2="91.6" y2="290.83" stroke="#000" stroke-width="1.1"/>
<line x1="89.00" y1="282.32" x2="91.6" y2="282.32" stroke="#000" stroke-width="1.1"/>
<line x1="89.00" y1="273.81" x2="91.6" y2="273.81" stroke="#000" stroke-width="1.1"/>
<line x1="86.90" y1="265.30" x2="91.6" y2="265.30" stroke="#000" stroke-width="1.1"/>
<line x1="89.00" y1="256.79" x2="91.6" y2="256.79" stroke="#000" stroke-width="1.1"/>
<line x1="89.00" y1="248.28" x2="91.6" y2="248.28" stroke="#000" stroke-width="1.1"/>
<line x1="89.00" y1="239.77" x2="91.6" y2="239.77" stroke="#000" stroke-width="1.1"/>
<line x1="89.00" y1="231.26" x2="91.6" y2="231.26" stroke="#000" stroke-width="1.1"/>
<line x1="89.00" y1="222.75" x2="91.6" y2="222.75" stroke="#000" stroke-width="1.1"/>
<line x1="89.00" y1="214.24" x2="91.6" y2="214.24" stroke="#000" stroke-width="1.1"/>
<line x1="89.00" y1="205.73" x2="91.6" y2="205.73" stroke="#000" stroke-width="1.1"/>
<line x1="89.00" y1="197.22" x2="91.6" y2="197.22" stroke="#000" stroke-width="1.1"/>
<line x1="89.00" y1="188.71" x2="91.6" y2="188.71" stroke="#000" stroke-width="1.1"/>
<line x1="86.90" y1="180.20" x2="91.6" y2="180.20" stroke="#000" stroke-width="1.1"/>
<line x1="89.00" y1="171.69" x2="91.6" y2="171.69" stroke="#000" stroke-width="1.1"/>
<line x1="89.00" y1="163.18" x2="91.6" y2="163.18" stroke="#000" stroke-width="1.1"/>
<line x1="89.00" y1="154.67" x2="91.6" y2="154.67" stroke="#000" stroke-width="1.1"/>
<line x1="89.00" y1="146.16" x2="91.6" y2="146.16" stroke="#000" stroke-width="1.1"/>
<line x1="89.00" y1="137.65" x2="91.6" y2="137.65" stroke="#000" stroke-width="1.1"/>
<line x1="89.00" y1="129.14" x2="91.6" y2="129.14" stroke="#000" stroke-width="1.1"/>
<line x1="89.00" y1="120.63" x2="91.6" y2="120.63" stroke="#000" stroke-width="1.1"/>
<line x1="89.00" y1="112.12" x2="91.6" y2="112.12" stroke="#000" stroke-width="1.1"/>
<line x1="89.00" y1="103.61" x2="91.6" y2="103.61" stroke="#000" stroke-width="1.1"/>
<line x1="86.90" y1="95.10" x2="91.6" y2="95.10" stroke="#000" stroke-width="1.1"/>
<line x1="89.00" y1="86.59" x2="91.6" y2="86.59" stroke="#000" stroke-width="1.1"/>
<line x1="89.00" y1="78.08" x2="91.6" y2="78.08" stroke="#000" stroke-width="1.1"/>
<line x1="89.00" y1="69.57" x2="91.6" y2="69.57" stroke="#000" stroke-width="1.1"/>
<line x1="89.00" y1="61.06" x2="91.6" y2="61.06" stroke="#000" stroke-width="1.1"/>
<line x1="89.00" y1="52.55" x2="91.6" y2="52.55" stroke="#000" stroke-width="1.1"/>
<line x1="89.00" y1="44.04" x2="91.6" y2="44.04" stroke="#000" stroke-width="1.1"/>
<line x1="89.00" y1="35.53" x2="91.6" y2="35.53" stroke="#000" stroke-width="1.1"/>
<line x1="89.00" y1="27.02" x2="91.6" y2="27.02" stroke="#000" stroke-width="1.1"/>
<line x1="89.00" y1="18.51" x2="91.6" y2="18.51" stroke="#000" stroke-width="1.1"/>
<line x1="86.90" y1="10.00" x2="91.6" y2="10.00" stroke="#000" stroke-width="1.1"/>
<line x1="131.94" y1="435.5" x2="131.94" y2="440.5" stroke="#000" stroke-width="1.1"/>
<line x1="265.83" y1="435.5" x2="265.83" y2="440.5" stroke="#000" stroke-width="1.1"/>
<line x1="414.60" y1="435.5" x2="414.60" y2="440.5" stroke="#000" stroke-width="1.1"/>
<line x1="563.37" y1="435.5" x2="563.37" y2="440.5" stroke="#000" stroke-width="1.1"/>
<line x1="697.26" y1="435.5" x2="697.26" y2="440.5" stroke="#000" stroke-width="1.1"/>
<line x1="280.71" y1="435.5" x2="280.71" y2="438.3" stroke="#000" stroke-width="1.1"/>
<line x1="295.59" y1="435.5" x2="295.59" y2="438.3" stroke="#000" stroke-width="1.1"/>
<line x1="310.46" y1="435.5" x2="310.46" y2="438.3" stroke="#000" stroke-width="1.1"/>
<line x1="325.34" y1="435.5" x2="325.34" y2="438.3" stroke="#000" stroke-width="1.1"/>
<line x1="340.22" y1="435.5" x2="340.22" y2="438.3" stroke="#000" stroke-width="1.1"/>
<line x1="355.09" y1="435.5" x2="355.09" y2="438.3" stroke="#000" stroke-width="1.1"/>
<line x1="369.97" y1="435.5" x2="369.97" y2="438.3" stroke="#000" stroke-width="1.1"/>
<line x1="384.85" y1="435.5" x2="384.85" y2="438.3" stroke="#000" stroke-width="1.1"/>
<line x1="399.72" y1="435.5" x2="399.72" y2="438.3" stroke="#000" stroke-width="1.1"/>
<line x1="429.48" y1="435.5" x2="429.48" y2="438.3" stroke="#000" stroke-width="1.1"/>
<line x1="444.35" y1="435.5" x2="444.35" y2="438.3" stroke="#000" stroke-width="1.1"/>
<line x1="459.23" y1="435.5" x2="459.23" y2="438.3" stroke="#000" stroke-width="1.1"/>
<line x1="474.11" y1="435.5" x2="474.11" y2="438.3" stroke="#000" stroke-width="1.1"/>
<line x1="488.98" y1="435.5" x2="488.98" y2="438.3" stroke="#000" stroke-width="1.1"/>
<line x1="503.86" y1="435.5" x2="503.86" y2="438.3" stroke="#000" stroke-width="1.1"/>
<line x1="518.74" y1="435.5" x2="518.74" y2="438.3" stroke="#000" stroke-width="1.1"/>
<line x1="533.61" y1="435.5" x2="533.61" y2="438.3" stroke="#000" stroke-width="1.1"/>
<line x1="548.49" y1="435.5" x2="548.49" y2="438.3" stroke="#000" stroke-width="1.1"/>
<line x1="603.67" y1="435.5" x2="603.67" y2="438.3" stroke="#000" stroke-width="1.1"/>
<line x1="627.25" y1="435.5" x2="627.25" y2="438.3" stroke="#000" stroke-width="1.1"/>
<line x1="643.98" y1="435.5" x2="643.98" y2="438.3" stroke="#000" stroke-width="1.1"/>
<line x1="656.95" y1="435.5" x2="656.95" y2="438.3" stroke="#000" stroke-width="1.1"/>
<line x1="667.55" y1="435.5" x2="667.55" y2="438.3" stroke="#000" stroke-width="1.1"/>
<line x1="676.52" y1="435.5" x2="676.52" y2="438.3" stroke="#000" stroke-width="1.1"/>
<line x1="684.28" y1="435.5" x2="684.28" y2="438.3" stroke="#000" stroke-width="1.1"/>
<line x1="691.13" y1="435.5" x2="691.13" y2="438.3" stroke="#000" stroke-width="1.1"/>
<line x1="225.53" y1="435.5" x2="225.53" y2="438.3" stroke="#000" stroke-width="1.1"/>
<line x1="201.95" y1="435.5" x2="201.95" y2="438.3" stroke="#000" stroke-width="1.1"/>
<line x1="185.22" y1="435.5" x2="185.22" y2="438.3" stroke="#000" stroke-width="1.1"/>
<line x1="172.25" y1="435.5" x2="172.25" y2="438.3" stroke="#000" stroke-width="1.1"/>
<line x1="161.65" y1="435.5" x2="161.65" y2="438.3" stroke="#000" stroke-width="1.1"/>
<line x1="152.68" y1="435.5" x2="152.68" y2="438.3" stroke="#000" stroke-width="1.1"/>
<line x1="144.92" y1="435.5" x2="144.92" y2="438.3" stroke="#000" stroke-width="1.1"/>
<line x1="138.07" y1="435.5" x2="138.07" y2="438.3" stroke="#000" stroke-width="1.1"/>
<text transform="matrix(1.0561,0,0,1.0000,36.84,446.10)" font-size="31" fill="#000">0.0</text>
<text transform="matrix(1.0505,0,0,1.0000,36.62,361.00)" font-size="31" fill="#000">0.5</text>
<text transform="matrix(1.0635,0,0,1.0000,36.54,275.90)" font-size="31" fill="#000">1.0</text>
<text transform="matrix(1.0460,0,0,1.0000,36.60,190.80)" font-size="31" fill="#000">1.5</text>
<text transform="matrix(1.0679,0,0,1.0000,36.35,105.70)" font-size="31" fill="#000">2.0</text>
<text transform="matrix(1.0537,0,0,1.0000,36.38,20.60)" font-size="31" fill="#000">2.5</text>
<text transform="matrix(1.2625,0,0,0.9831,92.47,467.78)" font-size="31" fill="#000">−</text>
<text transform="matrix(1.2735,0,0,0.9831,220.86,467.78)" font-size="31" fill="#000">−</text>
<text transform="matrix(1.2000,0,0,0.9831,297.20,467.81)" font-size="31" fill="#000">−</text>
<text transform="matrix(1.0608,0,0,1.0000,116.30,467.00)" font-size="31" fill="#000">1.0</text>
<text transform="matrix(1.0361,0,0,1.0000,245.00,467.00)" font-size="31" fill="#000">0.1</text>
<text transform="matrix(1.0468,0,0,1.0000,320.69,467.00)" font-size="31" fill="#000">0.05</text>
<text transform="matrix(1.0628,0,0,1.0000,405.33,467.00)" font-size="31" fill="#000">0</text>
<text transform="matrix(1.0443,0,0,1.0000,456.69,467.00)" font-size="31" fill="#000">0.05</text>
<text transform="matrix(1.0480,0,0,1.0000,540.53,467.00)" font-size="31" fill="#000">0.1</text>
<text transform="matrix(1.0572,0,0,1.0000,674.25,467.00)" font-size="31" fill="#000">1.0</text>
<text transform="matrix(1.1180,0,0,1.0000,76.27,506.60)" font-size="32.5" fill="#000">Effective</text>
<text transform="matrix(1.0717,0,0,1.0000,225.05,506.60)" font-size="32.5" fill="#000">mass</text>
<text transform="matrix(1.1737,0,0,1.0000,318.80,506.60)" font-size="32.5" fill="#000">of</text>
<text transform="matrix(1.0943,0,0,1.0000,359.62,506.60)" font-size="32.5" fill="#000">holes</text>
<text transform="matrix(1.1114,0,0,1.0000,454.20,506.60)" font-size="32.5" fill="#000">and</text>
<text transform="matrix(1.1233,0,0,1.0000,523.89,506.60)" font-size="32.5" fill="#000">electrons</text>
<text transform="matrix(0.8942,0,0,1.0000,682.21,506.60)" font-size="32.5" fill="#000">(</text>
<text transform="matrix(1.1268,0,0,1.0000,693.91,506.60)" font-size="32.5" fill="#000">m</text>
<text transform="matrix(1.1000,0,0,1.0000,742.65,506.60)" font-size="32.5" fill="#000">)</text>
<text transform="matrix(1.0994,0,0,1.0279,725.49,510.75)" font-size="22" fill="#000">0</text>
<text transform="matrix(0.9938,0,0,1.0047,419.91,51.56)" font-size="35" fill="#000">[3, 3]</text>
<text transform="matrix(1.0034,0,0,1.0000,419.49,97.25)" font-size="35" fill="#000">[4, 1]</text>
<text transform="matrix(1.0034,0,0,0.9893,419.49,143.48)" font-size="35" fill="#000">[6, 0]</text>
<text transform="matrix(0.9993,0,0,1.0745,427.00,223.73)" font-size="35" fill="#000">AKC</text>
<text transform="matrix(1.0047,0,0,1.0572,428.39,313.10)" font-size="35" fill="#ff0000">PAK</text>
<text transform="matrix(1.0222,0,0,1.0683,434.29,399.73)" font-size="35" fill="#1e90ff">PG</text>
<text transform="matrix(0,-1.0073,0.9575,0,24.10,336.77)" font-size="35">Band gap (eV)</text>
</svg></body></html>
